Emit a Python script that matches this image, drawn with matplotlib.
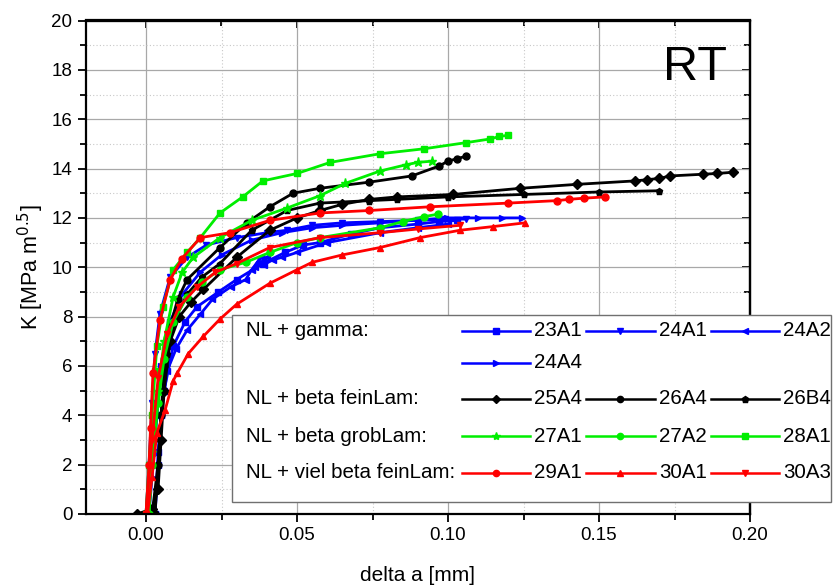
import matplotlib.pyplot as plt
from matplotlib.patches import Rectangle
from matplotlib.ticker import MultipleLocator

plt.rcParams['font.family'] = ['Liberation Sans', 'DejaVu Sans']

# R-curves: crack extension delta a [mm] vs. K [MPa m^0.5]
# NL + gamma
a_23A1 = [0.003, 0.004, 0.005, 0.006, 0.009, 0.013, 0.0169, 0.024, 0.030, 0.0387,
          0.046, 0.052, 0.0576, 0.068, 0.0775, 0.090, 0.097, 0.103]
K_23A1 = [0.0, 2.5, 4.0, 5.0, 6.8, 7.8, 8.4, 9.0, 9.5, 10.15,
          10.6, 10.9, 11.0, 11.35, 11.6, 11.75, 11.85, 11.9]
a_24A1 = [0.000, 0.001, 0.002, 0.003, 0.0046, 0.008, 0.0136, 0.020, 0.030, 0.040,
          0.0467, 0.055, 0.065, 0.0775, 0.090, 0.099, 0.106]
K_24A1 = [0.0, 2.0, 4.5, 6.5, 8.1, 9.6, 10.4, 10.9, 11.2, 11.4,
          11.5, 11.7, 11.8, 11.85, 11.9, 11.95, 11.95]
a_24A2 = [0.003, 0.004, 0.005, 0.007, 0.010, 0.0136, 0.018, 0.022, 0.028, 0.033,
          0.035, 0.038, 0.036, 0.040, 0.039, 0.042, 0.045, 0.050, 0.060, 0.0775,
          0.090, 0.100]
K_24A2 = [0.0, 2.0, 4.0, 5.8, 6.7, 7.45, 8.1, 8.7, 9.2, 9.5,
          9.9, 10.4, 10.0, 10.4, 10.1, 10.3, 10.4, 10.6, 11.0, 11.4,
          11.6, 11.75]
a_24A4 = [0.001, 0.002, 0.003, 0.005, 0.008, 0.012, 0.018, 0.025, 0.035, 0.045,
          0.055, 0.065, 0.0775, 0.0997, 0.110, 0.118, 0.1245]
K_24A4 = [0.0, 1.5, 3.0, 6.0, 7.8, 8.9, 9.8, 10.5, 11.1, 11.4,
          11.6, 11.7, 11.8, 12.0, 12.0, 12.0, 12.0]

# NL + beta feinLam
a_25A4 = [-0.003, 0.002, 0.004, 0.005, 0.006, 0.008, 0.011, 0.015, 0.019, 0.030,
          0.041, 0.050, 0.0576, 0.065, 0.074, 0.083, 0.1017, 0.124, 0.1427, 0.162,
          0.166, 0.170, 0.1735, 0.1845, 0.189, 0.1944]
K_25A4 = [0.0, 0.2, 1.0, 3.0, 5.0, 7.0, 8.0, 8.6, 9.1, 10.4,
          11.5, 12.0, 12.3, 12.55, 12.75, 12.85, 12.95, 13.2, 13.36, 13.5,
          13.55, 13.6, 13.7, 13.77, 13.8, 13.85]
a_26A4 = [0.003, 0.004, 0.005, 0.006, 0.008, 0.0105, 0.0136, 0.0245, 0.0334, 0.041,
          0.0487, 0.0576, 0.074, 0.088, 0.097, 0.100, 0.103, 0.106]
K_26A4 = [0.0, 2.0, 4.0, 6.0, 7.6, 8.7, 9.5, 10.8, 11.8, 12.45,
          13.0, 13.2, 13.45, 13.7, 14.1, 14.3, 14.4, 14.5]
a_26B4 = [0.002, 0.004, 0.005, 0.007, 0.010, 0.0136, 0.0185, 0.0245, 0.035, 0.0467,
          0.0576, 0.074, 0.083, 0.100, 0.125, 0.150, 0.170]
K_26B4 = [0.0, 2.0, 4.0, 6.5, 8.0, 8.9, 9.6, 10.15, 11.5, 12.3,
          12.6, 12.7, 12.75, 12.85, 12.95, 13.05, 13.1]

# NL + beta grobLam
a_27A1 = [0.001, 0.002, 0.004, 0.006, 0.009, 0.012, 0.0156, 0.0245, 0.035, 0.0467,
          0.0576, 0.066, 0.0775, 0.086, 0.090, 0.0947]
K_27A1 = [0.0, 2.5, 5.0, 7.0, 8.8, 9.8, 10.4, 11.2, 11.9, 12.4,
          12.9, 13.4, 13.9, 14.15, 14.25, 14.3]
a_27A2 = [0.001, 0.002, 0.004, 0.006, 0.009, 0.0136, 0.0185, 0.0245, 0.033, 0.041,
          0.050, 0.0576, 0.0775, 0.085, 0.092, 0.0967]
K_27A2 = [0.0, 2.0, 4.5, 6.3, 7.8, 8.8, 9.4, 9.9, 10.2, 10.6,
          11.0, 11.2, 11.6, 11.85, 12.05, 12.15]
a_28A1 = [0.000, 0.001, 0.002, 0.003, 0.0036, 0.0056, 0.009, 0.0136, 0.018, 0.0245,
          0.032, 0.0387, 0.050, 0.061, 0.0775, 0.092, 0.106, 0.114, 0.117, 0.120]
K_28A1 = [0.0, 2.0, 4.0, 5.8, 6.8, 8.4, 9.9, 10.6, 11.2, 12.2,
          12.85, 13.5, 13.8, 14.25, 14.6, 14.8, 15.05, 15.2, 15.3, 15.35]

# NL + viel beta feinLam
a_29A1 = [0.000, 0.001, 0.0015, 0.0023, 0.0046, 0.008, 0.0119, 0.018, 0.0278, 0.041,
          0.0576, 0.074, 0.094, 0.120, 0.136, 0.140, 0.145, 0.152]
K_29A1 = [0.0, 2.0, 3.5, 5.7, 7.85, 9.5, 10.35, 11.2, 11.4, 11.9,
          12.2, 12.3, 12.45, 12.6, 12.7, 12.75, 12.8, 12.85]
a_30A1 = [0.0005, 0.002, 0.0036, 0.0063, 0.009, 0.0103, 0.014, 0.019, 0.0245, 0.030,
          0.041, 0.050, 0.055, 0.065, 0.0775, 0.0907, 0.104, 0.115, 0.1255]
K_30A1 = [0.0, 1.5, 3.3, 4.2, 5.4, 5.7, 6.5, 7.2, 7.9, 8.5,
          9.35, 9.9, 10.2, 10.5, 10.8, 11.2, 11.5, 11.65, 11.8]
a_30A3 = [0.000, 0.002, 0.004, 0.007, 0.011, 0.0169, 0.023, 0.030, 0.041, 0.0576,
          0.0775, 0.090, 0.104]
K_30A3 = [0.0, 3.0, 5.5, 7.3, 8.4, 9.2, 9.8, 10.15, 10.8, 11.2,
          11.4, 11.55, 11.7]

series = [
    ('23A1', a_23A1, K_23A1, 'blue', 's'),
    ('24A1', a_24A1, K_24A1, 'blue', 'v'),
    ('24A2', a_24A2, K_24A2, 'blue', '<'),
    ('24A4', a_24A4, K_24A4, 'blue', '>'),
    ('25A4', a_25A4, K_25A4, 'black', 'D'),
    ('26A4', a_26A4, K_26A4, 'black', 'o'),
    ('26B4', a_26B4, K_26B4, 'black', 'p'),
    ('27A1', a_27A1, K_27A1, '#00ee00', '*'),
    ('27A2', a_27A2, K_27A2, '#00ee00', 'o'),
    ('28A1', a_28A1, K_28A1, '#00ee00', 's'),
    ('29A1', a_29A1, K_29A1, 'red', 'o'),
    ('30A1', a_30A1, K_30A1, 'red', '^'),
    ('30A3', a_30A3, K_30A3, 'red', 'v'),
]
styles = {name: (color, marker) for name, _, _, color, marker in series}

group_labels = ['NL + gamma:', '', 'NL + beta feinLam:', 'NL + beta grobLam:',
                'NL + viel beta feinLam:']
legend_rows = [['23A1', '24A1', '24A2'], ['24A4'], ['25A4', '26A4', '26B4'],
               ['27A1', '27A2', '28A1'], ['29A1', '30A1', '30A3']]

W, H = 834, 585
fig = plt.figure(figsize=(W / 100, H / 100), dpi=100)
ax = fig.add_axes([85.6 / W, 1 - 514 / H, (750 - 85.6) / W, (514 - 20.5) / H])

for name, a, K, color, marker in series:
    ms = 6.5 if marker == '*' else 5
    ax.plot(a, K, color=color, marker=marker, ms=ms, lw=2.0, mec=color, label=name)

ax.set_xlim(-0.02, 0.20)
ax.set_ylim(0, 20)
ax.xaxis.set_major_locator(MultipleLocator(0.05))
ax.xaxis.set_minor_locator(MultipleLocator(0.025))
ax.yaxis.set_major_locator(MultipleLocator(2))
ax.yaxis.set_minor_locator(MultipleLocator(1))
ax.xaxis.set_major_formatter(lambda v, p: f'{v:.2f}')
ax.set_axisbelow(True)
ax.grid(which='major', color='#a8a8a8', lw=0.9, ls='-')
ax.grid(which='minor', color='#c8c8c8', lw=0.8, ls=(0, (1, 2)))
ax.tick_params(which='major', direction='out', length=6, width=1.3, labelsize=13.5)
ax.tick_params(which='minor', direction='out', length=4, width=1.3)
for sp in ax.spines.values():
    sp.set_linewidth(1.6)

# top and right axes carry inward ticks only
secx = ax.secondary_xaxis('top')
secx.xaxis.set_major_locator(MultipleLocator(0.05))
secx.xaxis.set_minor_locator(MultipleLocator(0.025))
secx.tick_params(which='major', direction='in', length=6, width=1.3, labeltop=False)
secx.tick_params(which='minor', direction='in', length=4, width=1.3)
secy = ax.secondary_yaxis('right')
secy.yaxis.set_major_locator(MultipleLocator(2))
secy.yaxis.set_minor_locator(MultipleLocator(1))
secy.tick_params(which='major', direction='in', length=6, width=1.3, labelright=False)
secy.tick_params(which='minor', direction='in', length=4, width=1.3)
for sec in (secx, secy):
    for sp in sec.spines.values():
        sp.set_linewidth(1.6)

ax.set_xlabel('delta a [mm]', fontsize=15, labelpad=16)
ax.set_ylabel('K [MPa m$^{0.5}$]', fontsize=15.5, labelpad=4)
ax.text(0.1712, 17.57, 'RT', fontsize=35, ha='left', va='baseline')

# grouped legend drawn in pixel coordinates on a full-figure overlay
ov = fig.add_axes([0, 0, 1, 1], zorder=5)
ov.set_xlim(0, W)
ov.set_ylim(H, 0)
ov.axis('off')
ov.add_patch(Rectangle((232, 315), 599, 187, facecolor='white',
                       edgecolor='#707070', lw=1.0))
row_y = [331, 363, 399, 436, 473]
col_x = [(462, 530), (586, 655), (711, 779)]
for y, label, names in zip(row_y, group_labels, legend_rows):
    if label:
        ov.text(246, y, label, fontsize=14.8, ha='left', va='center')
    for (x0, x1), name in zip(col_x, names):
        color, marker = styles[name]
        ms = 6 if marker == '*' else 4.5
        ov.plot([x0, x1], [y, y], color=color, lw=1.8)
        ov.plot([(x0 + x1) / 2], [y], color=color, marker=marker, ms=ms, mec=color)
        ov.text(x1 + 4, y, name, fontsize=14.8, ha='left', va='center', clip_on=True)

fig.savefig('out.png', dpi=100, facecolor='white')
